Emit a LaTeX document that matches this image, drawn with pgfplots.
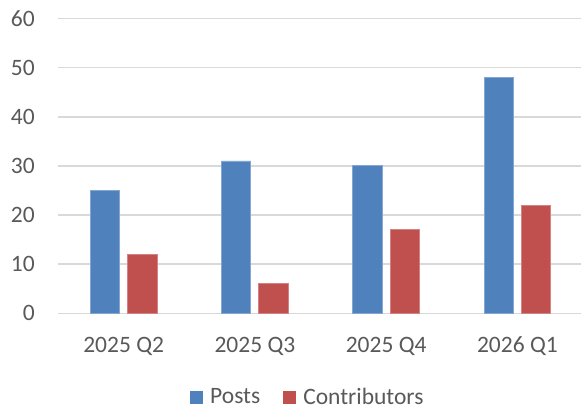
\documentclass[border=0pt]{standalone}
\usepackage{fontspec}
\setmainfont{Carlito}
\usepackage{pgfplots}
\pgfplotsset{compat=1.18}
\definecolor{cposts}{HTML}{4F81BD}
\definecolor{ccontrib}{HTML}{C0504D}
\definecolor{cgrid}{HTML}{D9D9D9}
\definecolor{ctext}{HTML}{595959}
\begin{document}
\begin{tikzpicture}
\clip (0pt,0pt) rectangle (581pt,407pt);
\begin{axis}[
  at={(58pt,93.7pt)}, anchor=south west,
  scale only axis, width=525pt, height=294.8pt,
  ybar=8pt, bar width=29.3pt,
  xmin=-0.5, xmax=3.5, ymin=0, ymax=60,
  xtick={0,1,2,3}, xticklabels={2025 Q2,2025 Q3,2025 Q4,2026 Q1},
  ytick={0,10,20,30,40,50,60},
  major tick length=0pt,
  ymajorgrids, grid style={cgrid, line width=1.5pt},
  axis x line*=bottom, axis y line*=left,
  x axis line style={cgrid, line width=1.5pt, -},
  y axis line style={draw=none},
  tick label style={font=\fontsize{23.5}{27}\selectfont, text=ctext},
  /pgf/number format/assume math mode=true,
  yticklabel style={anchor=east, inner sep=0pt, xshift=-23pt},
  xticklabel style={anchor=north, inner sep=0pt, yshift=-23.5pt},
  legend columns=2,
  legend style={at={(axis description cs:0.474,-0.283)}, anchor=center,
    draw=none, fill=none, font=\fontsize{23.5}{27}\selectfont, text=ctext,
    nodes={inner sep=0pt},
    /tikz/every odd column/.style={column sep=7pt},
    /tikz/every even column/.style={column sep=23pt}},
  legend image code/.code={\fill[#1,draw=none] (0pt,-6.8pt) rectangle (13pt,6.2pt);},
]
\addplot[fill=cposts, draw=cposts!70!white, line width=0.8pt] coordinates {(0,25) (1,31) (2,30) (3,48)};
\addplot[fill=ccontrib, draw=ccontrib!70!white, line width=0.8pt] coordinates {(0,12) (1,6) (2,17) (3,22)};
\legend{Posts,Contributors}
\end{axis}
\end{tikzpicture}
\end{document}
